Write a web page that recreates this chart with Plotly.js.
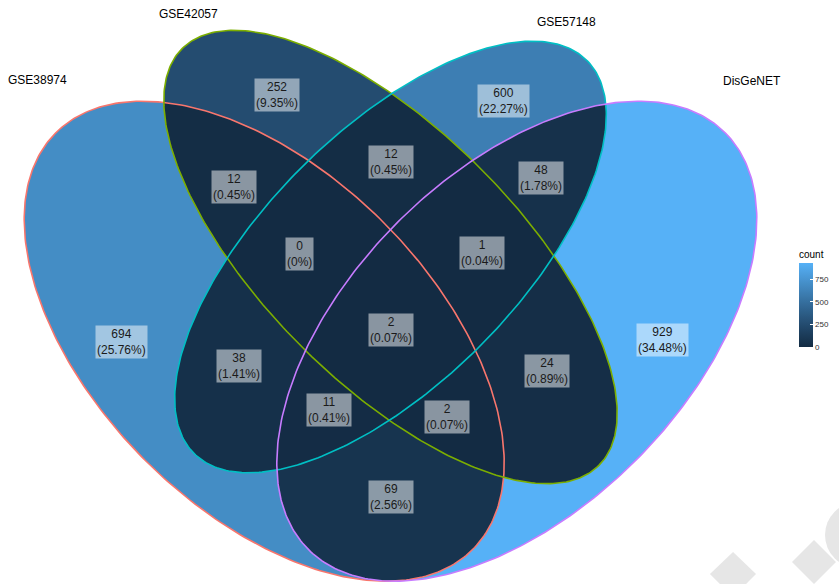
<!DOCTYPE html>
<html><head><meta charset="utf-8">
<script src="https://cdn.plot.ly/plotly-3.0.1.min.js"></script>
<style>html,body{margin:0;padding:0;background:#fff}</style>
</head><body><div id="chart" style="width:839px;height:584px"></div>
<script>
// ---- data ----
const setNames = ['GSE38974','GSE42057','GSE57148','DisGeNET'];
const setColors = ['#F8766D','#7CAE00','#00BFC4','#C77CFF'];
const regionSets = ['A','B','C','D','AB','AC','AD','BC','BD','CD','ABC','ABD','ACD','BCD','ABCD'];
const regionCounts = [694,252,600,929,12,38,69,12,24,48,0,2,11,1,2];
const colorbarTicks = [0,250,500,750];

// ggVennDiagram 4-set ellipse geometry: x0, y0, a, b, angle(deg)
const ellipses = [
  [0.35,0.47,0.35,0.20,135],
  [0.50,0.57,0.35,0.15,135],
  [0.50,0.57,0.33,0.15,45],
  [0.65,0.47,0.35,0.20,45]
];

// ---- layout geometry (label placement, in page pixels) ----
const labelPx = [[121.7,342],[277,95],[503.5,101],[662,340],[234,187],[238.6,366],[390.6,497],
                 [390.5,162],[547,370.5],[541,178],[299.5,254],[446.8,417],[329,409.5],[482,253],[390.5,329.6]];
const setLabelPx = [[37,80],[188,13.5],[566,22],[752,81]];

const W=839, H=584, scale=842, px0=390.5, py0=257;
const xr=[0.5-px0/scale, 0.5+(W-px0)/scale];
const yr=[0.57-(H-py0)/scale, 0.57+py0/scale];
const toX=p=>0.5+(p-px0)/scale, toY=p=>0.57-(p-py0)/scale;

const total = regionCounts.reduce((a,b)=>a+b,0);
const zmax = Math.max(...regionCounts);

function inside(e,x,y){
  const th=e[4]*Math.PI/180, dx=x-e[0], dy=y-e[1];
  const u=dx*Math.cos(th)+dy*Math.sin(th), v=-dx*Math.sin(th)+dy*Math.cos(th);
  return (u*u)/(e[2]*e[2])+(v*v)/(e[3]*e[3])<=1;
}
const letters='ABCD';
const keyIndex={}; regionSets.forEach((k,i)=>keyIndex[k]=i);

// grid of region membership -> region count
const nx=W, ny=H, dx=(xr[1]-xr[0])/nx, dy=(yr[1]-yr[0])/ny;
const z=[];
for(let j=0;j<ny;j++){
  const y=yr[0]+(j+0.5)*dy; const row=new Array(nx);
  for(let i=0;i<nx;i++){
    const x=xr[0]+(i+0.5)*dx; let k='';
    for(let s=0;s<4;s++) if(inside(ellipses[s],x,y)) k+=letters[s];
    row[i]= k===''? null : regionCounts[keyIndex[k]];
  }
  z.push(row);
}

// Lab-space gradient like ggplot2 default continuous fill
function lin(c){c/=255;return c<=0.04045?c/12.92:Math.pow((c+0.055)/1.055,2.4);}
function toLab(h){const r=lin(parseInt(h.substr(1,2),16)),g=lin(parseInt(h.substr(3,2),16)),b=lin(parseInt(h.substr(5,2),16));
  const X=(0.4124*r+0.3576*g+0.1805*b)/0.95047,Y=0.2126*r+0.7152*g+0.0722*b,Z=(0.0193*r+0.1192*g+0.9505*b)/1.08883;
  const f=t=>t>0.008856?Math.cbrt(t):7.787*t+16/116;
  return [116*f(Y)-16,500*(f(X)-f(Y)),200*(f(Y)-f(Z))];}
function fromLab(L,a,b){const fy=(L+16)/116,fx=a/500+fy,fz=fy-b/200;
  const fi=t=>t*t*t>0.008856?t*t*t:(t-16/116)/7.787;
  const X=0.95047*fi(fx),Y=fi(fy),Z=1.08883*fi(fz);
  const g=c=>{c=c<=0.0031308?12.92*c:1.055*Math.pow(c,1/2.4)-0.055;return Math.round(Math.max(0,Math.min(1,c))*255);};
  return 'rgb('+g(3.2406*X-1.5372*Y-0.4986*Z)+','+g(-0.9689*X+1.8758*Y+0.0415*Z)+','+g(0.0557*X-0.2040*Y+1.0570*Z)+')';}
const lo=toLab('#132B43'), hi=toLab('#56B1F7'); const cs=[];
for(let i=0;i<=20;i++){const t=i/20;cs.push([t,fromLab(lo[0]+(hi[0]-lo[0])*t,lo[1]+(hi[1]-lo[1])*t,lo[2]+(hi[2]-lo[2])*t)]);}

const traces=[{
  type:'heatmap', z:z, x0:xr[0]+dx/2, dx:dx, y0:yr[0]+dy/2, dy:dy,
  zmin:0, zmax:zmax, colorscale:cs, zsmooth:false, hoverinfo:'skip',
  colorbar:{title:{text:'count',side:'top',font:{size:10,color:'#000',family:'Liberation Sans, Arial'}},
    thickness:14, len:100, lenmode:'pixels', x:799/W, xanchor:'left', y:1-297/H, yanchor:'middle',
    outlinewidth:0, ticks:'inside', ticklen:3, tickcolor:'#fff', tickvals:colorbarTicks,
    tickfont:{size:8,color:'#333',family:'Liberation Sans, Arial'}, xpad:0, ypad:0}
}];
ellipses.forEach((e,s)=>{
  const xs=[],ys=[],th=e[4]*Math.PI/180;
  for(let t=0;t<=360;t++){const a=t*Math.PI/180;
    xs.push(e[0]+e[2]*Math.cos(a)*Math.cos(th)-e[3]*Math.sin(a)*Math.sin(th));
    ys.push(e[1]+e[2]*Math.cos(a)*Math.sin(th)+e[3]*Math.sin(a)*Math.cos(th));}
  traces.push({type:'scatter',mode:'lines',x:xs,y:ys,line:{color:setColors[s],width:1.6},hoverinfo:'skip',showlegend:false});
});

const annotations=[];
regionSets.forEach((k,r)=>{
  const pct=Number((regionCounts[r]/total*100).toFixed(2))+'%';
  annotations.push({x:toX(labelPx[r][0]), y:toY(labelPx[r][1]), xref:'x', yref:'y', showarrow:false,
    xanchor:'center', yanchor:'middle',
    text:regionCounts[r]+'<br>('+pct+')', bgcolor:'rgba(255,255,255,0.5)', borderpad:1,
    font:{size:12,color:'#1a1a1a',family:'Liberation Sans, Arial'}});
});
setNames.forEach((n,s)=>annotations.push({x:setLabelPx[s][0]/W, y:1-setLabelPx[s][1]/H, xref:'paper', yref:'paper',
  xanchor:'center', yanchor:'middle',
  showarrow:false, text:n, font:{size:12,color:'#000',family:'Liberation Sans, Arial'}}));

function P(x,y){return (x/W).toFixed(4)+','+(1-y/H).toFixed(4);}
const shapes=[
  {type:'path',xref:'paper',yref:'paper',path:'M'+P(733,552)+' L'+P(756,574)+' L'+P(733,597)+' L'+P(710,574)+' Z',fillcolor:'#e6e6e6',line:{width:0},layer:'below'},
  {type:'path',xref:'paper',yref:'paper',path:'M'+P(792,562)+' L'+P(814,540)+' L'+P(836,562)+' L'+P(814,584)+' Z',fillcolor:'#e6e6e6',line:{width:0},layer:'below'},
  {type:'circle',xref:'paper',yref:'paper',x0:825/W,x1:891/W,y0:1-568/H,y1:1-502/H,fillcolor:'#e6e6e6',line:{width:0},layer:'below'}
];

Plotly.newPlot('chart',traces,{
  width:W,height:H,autosize:false,margin:{l:0,r:0,t:0,b:0,autoexpand:false},
  paper_bgcolor:'#fff',plot_bgcolor:'rgba(0,0,0,0)',showlegend:false,
  xaxis:{range:xr,visible:false,fixedrange:true},
  yaxis:{range:yr,visible:false,fixedrange:true},
  annotations:annotations, shapes:shapes
},{staticPlot:true});
</script></body></html>
